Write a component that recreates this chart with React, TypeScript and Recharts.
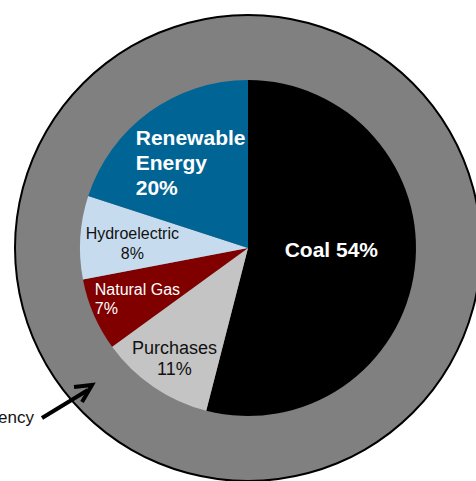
import React from 'react';
import { PieChart, Pie, Cell } from 'recharts';

const categories = ['Coal', 'Purchases', 'Natural Gas', 'Hydroelectric', 'Renewable Energy'];
const shares = [54, 11, 7, 8, 20];
const labelLines = [
  ['Coal 54%'],
  ['Purchases', '11%'],
  ['Natural Gas', '7%'],
  ['Hydroelectric', '8%'],
  ['Renewable', 'Energy', '20%'],
];
const ringLabel = 'Energy Efficiency';
const ringValue = [100];

const sliceStyle: Record<string, any> = {
  Coal: { fill: '#000000', text: '#ffffff', size: 21, weight: 'bold', r: 0.5, anchor: 'middle', dx: 0, dy: -10, lh: 25 },
  Purchases: { fill: '#c4c4c4', text: '#111111', size: 18, weight: 'normal', r: 0.79, anchor: 'middle', dx: 1, dy: 1, lh: 21 },
  'Natural Gas': { fill: '#800000', text: '#ffffff', size: 16, weight: 'normal', r: 0.78, anchor: 'start', dx: -33, dy: -2, lh: 19 },
  Hydroelectric: { fill: '#c6dcee', text: '#111111', size: 16, weight: 'normal', r: 0.69, anchor: 'middle', dx: 0, dy: 2, lh: 20 },
  'Renewable Energy': { fill: '#006595', text: '#ffffff', size: 21, weight: 'bold', r: 0.62, anchor: 'start', dx: -51, dy: -2, lh: 25 },
};

const RADIAN = Math.PI / 180;
const CX = 248;
const CY = 248;

const data = categories.map((name, i) => ({ name, value: shares[i], lines: labelLines[i] }));
const ringData = ringValue.map(v => ({ name: ringLabel, value: v }));

const renderLabel = (props: any) => {
  const { cx, cy, midAngle, outerRadius, payload } = props;
  const s = sliceStyle[payload.name];
  const r = outerRadius * s.r;
  const x = cx + r * Math.cos(-midAngle * RADIAN) + s.dx;
  const y = cy + r * Math.sin(-midAngle * RADIAN) + s.dy;
  const lines: string[] = payload.lines;
  const top = y - ((lines.length - 1) * s.lh) / 2;
  return (
    <text
      x={x}
      y={top}
      fill={s.text}
      textAnchor={s.anchor}
      dominantBaseline="central"
      fontSize={s.size}
      fontWeight={s.weight}
      fontFamily="'Liberation Sans', Arial, sans-serif"
    >
      {lines.map((l, i) => (
        <tspan key={i} x={x} dy={i === 0 ? 0 : s.lh}>{l}</tspan>
      ))}
    </text>
  );
};

export default function App() {
  return (
    <div style={{ position: 'absolute', left: 0, top: 0, width: 476, height: 481, background: '#fff', overflow: 'hidden' }}>
      <PieChart width={476} height={481} margin={{ top: 0, right: 0, bottom: 0, left: 0 }}>
        {/* outer gray ring (energy efficiency) */}
        <Pie
          data={ringData}
          dataKey="value"
          cx={CX}
          cy={CY}
          innerRadius={0}
          outerRadius={233}
          startAngle={90}
          endAngle={-270}
          stroke="none"
          isAnimationActive={false}
        >
          <Cell fill="#808080" />
        </Pie>
        {/* thin black rim */}
        <Pie
          data={ringData}
          dataKey="value"
          cx={CX}
          cy={CY}
          innerRadius={232}
          outerRadius={234}
          startAngle={90}
          endAngle={-270}
          stroke="none"
          isAnimationActive={false}
        >
          <Cell fill="#000000" />
        </Pie>
        <Pie
          data={data}
          dataKey="value"
          cx={CX}
          cy={CY}
          innerRadius={0}
          outerRadius={168}
          startAngle={90}
          endAngle={-270}
          stroke="none"
          label={renderLabel}
          labelLine={false}
          isAnimationActive={false}
        >
          {data.map(d => (
            <Cell key={d.name} fill={sliceStyle[d.name].fill} />
          ))}
        </Pie>
      </PieChart>
      <svg width={476} height={481} style={{ position: 'absolute', left: 0, top: 0, pointerEvents: 'none' }}>
        <text
          x={34}
          y={417}
          textAnchor="end"
          dominantBaseline="central"
          fontSize={17}
          fill="#111"
          fontFamily="'Liberation Sans', Arial, sans-serif"
        >
          {ringLabel}
        </text>
        <line x1={42} y1={418} x2={88} y2={390} stroke="#000" strokeWidth={4} />
        <polyline points="74,387 92,385 82,402" fill="none" stroke="#000" strokeWidth={4} strokeLinejoin="miter" />
      </svg>
    </div>
  );
}
